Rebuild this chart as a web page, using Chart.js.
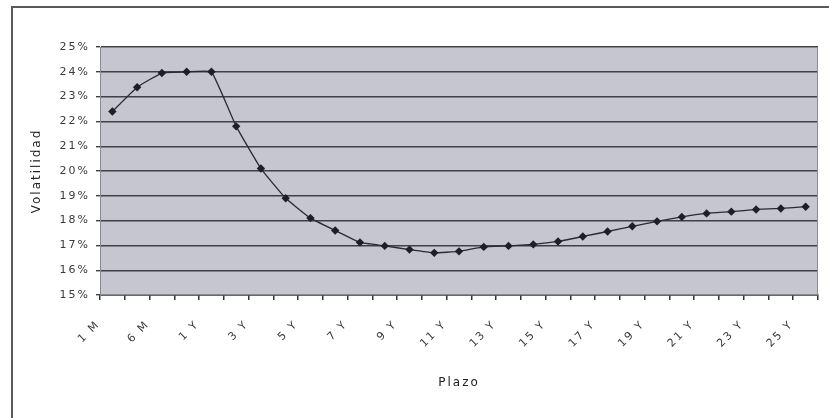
<!DOCTYPE html>
<html>
<head>
<meta charset="utf-8">
<script src="https://cdn.jsdelivr.net/npm/chart.js@4/dist/chart.umd.min.js"></script>
<style>
  html, body { margin: 0; padding: 0; background: #fff; }
  #wrap { position: relative; width: 829px; height: 418px; overflow: hidden; }
  #frame { position: absolute; left: 11px; top: 6px; width: 900px; height: 500px;
           border-top: 2px solid #5a5a5a; border-left: 2px solid #5a5a5a; }
  canvas { position: absolute; left: 0; top: 0; }
</style>
</head>
<body>
<div id="wrap">
  <div id="frame"></div>
  <canvas id="c" width="829" height="418"></canvas>
</div>
<script>
// Term structure of volatility (tenor labels and volatility in %)
const plazos = ['1 M', '3 M', '6 M', '9 M', '1 Y', '2 Y', '3 Y', '4 Y', '5 Y', '6 Y', '7 Y', '8 Y', '9 Y',
  '10 Y', '11 Y', '12 Y', '13 Y', '14 Y', '15 Y', '16 Y', '17 Y', '18 Y', '19 Y', '20 Y', '21 Y',
  '22 Y', '23 Y', '24 Y', '25 Y'];
const volatilidad = [22.4, 23.38, 23.95, 24.0, 24.0, 21.8, 20.1, 18.9, 18.1, 17.6, 17.12, 16.98, 16.83,
  16.7, 16.76, 16.94, 16.98, 17.04, 17.16, 17.36, 17.56, 17.77, 17.97, 18.15, 18.29,
  18.36, 18.45, 18.49, 18.56];
const yTicks = [15, 16, 17, 18, 19, 20, 21, 22, 23, 24, 25];

const font = "'DejaVu Sans', Verdana, sans-serif";
const spacing = '2px';

// Wide-tracked text for every label the chart measures and draws
const tracking = {
  id: 'tracking',
  beforeUpdate(chart) { chart.ctx.letterSpacing = spacing; },
  beforeLayout(chart) { chart.ctx.letterSpacing = spacing; },
  beforeDraw(chart) { chart.ctx.letterSpacing = spacing; }
};

// Grey plot background behind the series, thin frame on top
const plotBackground = {
  id: 'plotBackground',
  beforeDraw(chart) {
    const { ctx, chartArea: a } = chart;
    ctx.save();
    ctx.fillStyle = '#c6c6d1';
    ctx.fillRect(a.left, a.top, a.right - a.left, a.bottom - a.top);
    ctx.restore();
  },
  afterDatasetsDraw(chart) {
    const { ctx, chartArea: a } = chart;
    ctx.save();
    ctx.strokeStyle = '#8a8a92';
    ctx.lineWidth = 1;
    ctx.strokeRect(a.left + 0.5, a.top + 0.5, a.right - a.left - 1, a.bottom - a.top - 1);
    ctx.restore();
  }
};

new Chart(document.getElementById('c'), {
  type: 'line',
  data: {
    labels: plazos,
    datasets: [{
      data: volatilidad,
      borderColor: '#2a2a35',
      borderWidth: 1.3,
      backgroundColor: '#1e1e2a',
      pointStyle: 'rectRot',
      pointRadius: 4.2,
      pointBorderWidth: 0,
      tension: 0.1,
      fill: false
    }]
  },
  options: {
    responsive: false,
    animation: false,
    devicePixelRatio: 1,
    layout: { padding: { left: 12, top: 47, right: 11, bottom: 0 } },
    plugins: { legend: { display: false }, tooltip: { enabled: false } },
    scales: {
      x: {
        type: 'category',
        offset: true,
        grid: {
          offset: true,
          drawOnChartArea: false,
          drawTicks: true,
          tickLength: 5,
          color: '#333',
          lineWidth: 1.5
        },
        border: { display: true, color: '#333', width: 1.5 },
        ticks: {
          autoSkip: false,
          maxRotation: 45,
          minRotation: 45,
          padding: 18,
          labelOffset: -14,
          color: '#3a3a3a',
          font: { family: font, size: 11 },
          callback: (v, i) => (i % 2 === 0 ? plazos[i] : '')
        },
        title: {
          display: true,
          text: 'Plazo',
          color: '#222',
          font: { family: font, size: 12 },
          padding: { top: 0, bottom: 28 }
        },
        afterFit(scale) {
          scale.height = 123;
          scale.paddingLeft = 0;
          scale.paddingRight = 0;
        }
      },
      y: {
        min: 15,
        max: 25,
        afterBuildTicks(scale) { scale.ticks = yTicks.map(v => ({ value: v })); },
        grid: {
          color: '#3f3f44',
          lineWidth: 1.4,
          tickLength: 4,
          drawTicks: true
        },
        border: { display: true, color: '#8a8a92', width: 1 },
        ticks: {
          padding: 6,
          color: '#3a3a3a',
          font: { family: font, size: 11 },
          callback: v => v + '%'
        },
        title: {
          display: true,
          text: 'Volatilidad',
          color: '#222',
          font: { family: font, size: 12 },
          padding: { top: 18, bottom: 0 }
        },
        afterFit(scale) {
          scale.width = 88;
          scale.paddingTop = 0;
          scale.paddingBottom = 0;
        }
      }
    }
  },
  plugins: [tracking, plotBackground]
});
</script>
</body>
</html>
